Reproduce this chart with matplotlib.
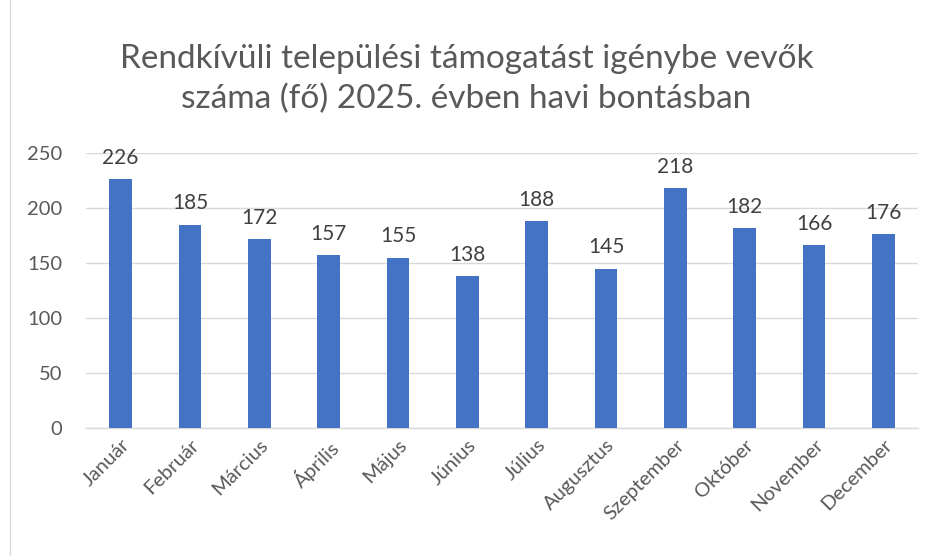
import matplotlib
matplotlib.use('Agg')
import matplotlib.pyplot as plt
from matplotlib.patches import Rectangle

months = ["Január", "Február", "Március", "Április", "Május", "Június",
          "Július", "Augusztus", "Szeptember", "Október", "November", "December"]
values = [226, 185, 172, 157, 155, 138, 188, 145, 218, 182, 166, 176]
title = "Rendkívüli települési támogatást igénybe vevők\nszáma (fő) 2025. évben havi bontásban"

plt.rcParams['font.family'] = ['Lato', 'DejaVu Sans']
text_c = "#595959"
bar_c = "#4472C4"
grid_c = "#D9D9D9"

fig = plt.figure(figsize=(9.33, 5.56), dpi=100)
W, H = 933, 556
ax = fig.add_axes([86 / W, 1 - 428 / H, (918 - 86) / W, (428 - 153) / H])

x = range(len(months))
ax.bar(x, values, width=0.33, color=bar_c, zorder=3)
for i, v in enumerate(values):
    ax.annotate(str(v), (i, v), textcoords="offset points", xytext=(0, 8),
                ha="center", va="bottom", fontsize=15, color="#404040")

ax.set_xlim(-0.5, len(months) - 0.5)
ax.set_ylim(0, 250)
ax.set_yticks(range(0, 251, 50))
ax.grid(axis="y", color=grid_c, linewidth=1, zorder=0)
for s in ["top", "right", "left"]:
    ax.spines[s].set_visible(False)
ax.spines["bottom"].set_color(grid_c)
ax.spines["bottom"].set_linewidth(1)
ax.tick_params(axis="both", length=0, colors=text_c, labelsize=14.5)
ax.tick_params(axis="y", pad=17)
ax.tick_params(axis="x", pad=6)
ax.set_xticks(list(x))
ax.set_xticklabels(months, rotation=45, ha="right", rotation_mode="anchor")

fig.text(0.5, 1 - 79 / H, title, ha="center", va="center", fontsize=24,
         color=text_c, linespacing=1.38)

fig.patches.append(Rectangle((10 / W, -0.01), 1.02, 1.02, transform=fig.transFigure,
                             fill=False, edgecolor="#D9D9D9", linewidth=1))

fig.savefig("out.png", dpi=100)
